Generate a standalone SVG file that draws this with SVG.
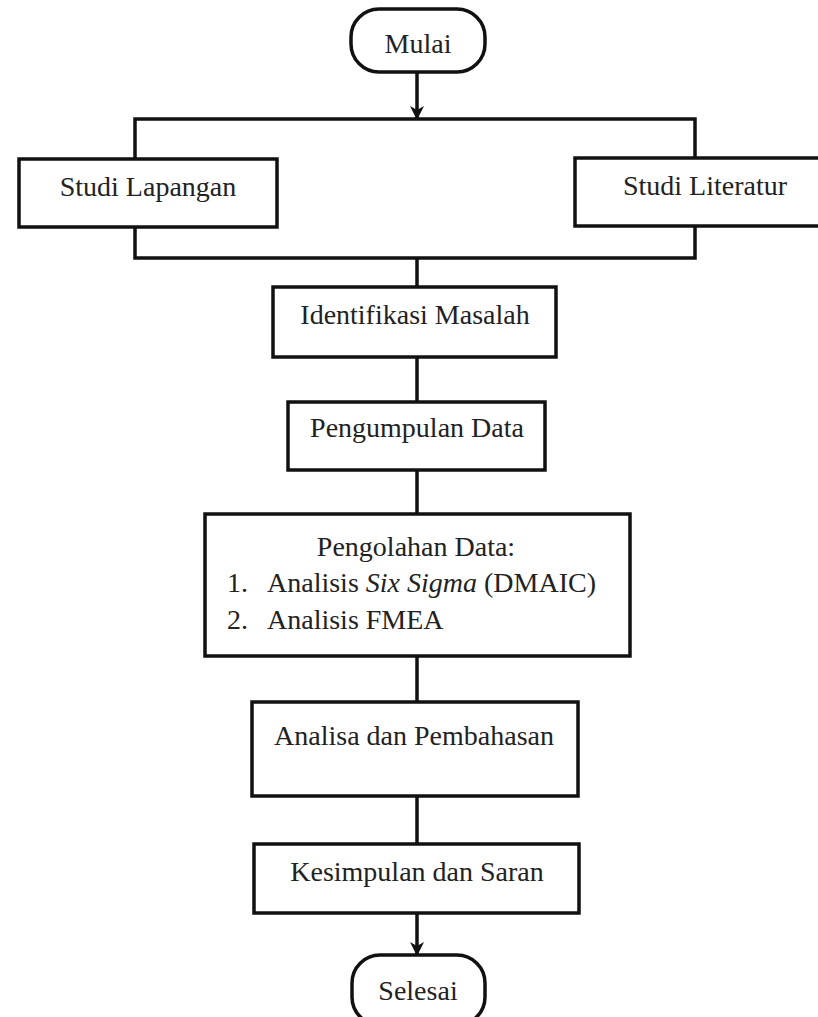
<svg xmlns="http://www.w3.org/2000/svg" width="818" height="1017" viewBox="0 0 818 1017">
<defs>
<style>
.box{fill:#fff;stroke:#111;stroke-width:3.5}
.ln{fill:none;stroke:#111;stroke-width:3.5}
text{font-family:"Liberation Serif","Times New Roman",serif;font-size:28px;fill:#222}
.c{text-anchor:middle}
</style>
<marker id="ah" viewBox="0 0 14 14" refX="12" refY="7" markerWidth="14" markerHeight="14" markerUnits="userSpaceOnUse" orient="auto">
<path d="M0,0 L14,7 L0,14 L4,7 Z" fill="#111"/>
</marker>
</defs>
<rect width="818" height="1017" fill="#fff"/>
<g id="connectors">
<line class="ln" x1="417" y1="72" x2="417" y2="118" marker-end="url(#ah)"/>
<polyline class="ln" points="135,159 135,119 695,119 695,159"/>
<polyline class="ln" points="135,227 135,258 695,258 695,227"/>
<line class="ln" x1="417" y1="258" x2="417" y2="287"/>
<line class="ln" x1="417" y1="357" x2="417" y2="402"/>
<line class="ln" x1="417" y1="470" x2="417" y2="514"/>
<line class="ln" x1="417" y1="656" x2="417" y2="702"/>
<line class="ln" x1="417" y1="796" x2="417" y2="844"/>
<line class="ln" x1="417" y1="913" x2="417" y2="954" marker-end="url(#ah)"/>
</g>
<g id="mulai">
<rect class="box" x="351" y="9" width="134" height="63" rx="28"/>
<text class="c" x="418" y="53">Mulai</text>
</g>
<g id="studi-lapangan">
<rect class="box" x="19" y="159" width="258" height="68"/>
<text class="c" x="148" y="196">Studi Lapangan</text>
</g>
<g id="studi-literatur">
<rect class="box" x="575" y="158" width="260" height="68"/>
<text class="c" x="705" y="195">Studi Literatur</text>
</g>
<g id="identifikasi">
<rect class="box" x="273" y="287" width="283" height="70"/>
<text class="c" x="415" y="324">Identifikasi Masalah</text>
</g>
<g id="pengumpulan">
<rect class="box" x="288" y="402" width="257" height="68"/>
<text class="c" x="417" y="437">Pengumpulan Data</text>
</g>
<g id="pengolahan">
<rect class="box" x="205" y="514" width="425" height="142"/>
<text class="c" x="416" y="556">Pengolahan Data:</text>
<text x="227" y="592">1.</text>
<text x="267" y="592">Analisis <tspan font-style="italic">Six Sigma</tspan> (DMAIC)</text>
<text x="227" y="629">2.</text>
<text x="267" y="629">Analisis FMEA</text>
</g>
<g id="analisa">
<rect class="box" x="252" y="702" width="326" height="94"/>
<text class="c" x="414" y="745">Analisa dan Pembahasan</text>
</g>
<g id="kesimpulan">
<rect class="box" x="254" y="844" width="325" height="69"/>
<text class="c" x="417" y="881">Kesimpulan dan Saran</text>
</g>
<g id="selesai">
<rect class="box" x="352" y="955" width="133" height="70" rx="28"/>
<text class="c" x="418" y="1000">Selesai</text>
</g>
</svg>
